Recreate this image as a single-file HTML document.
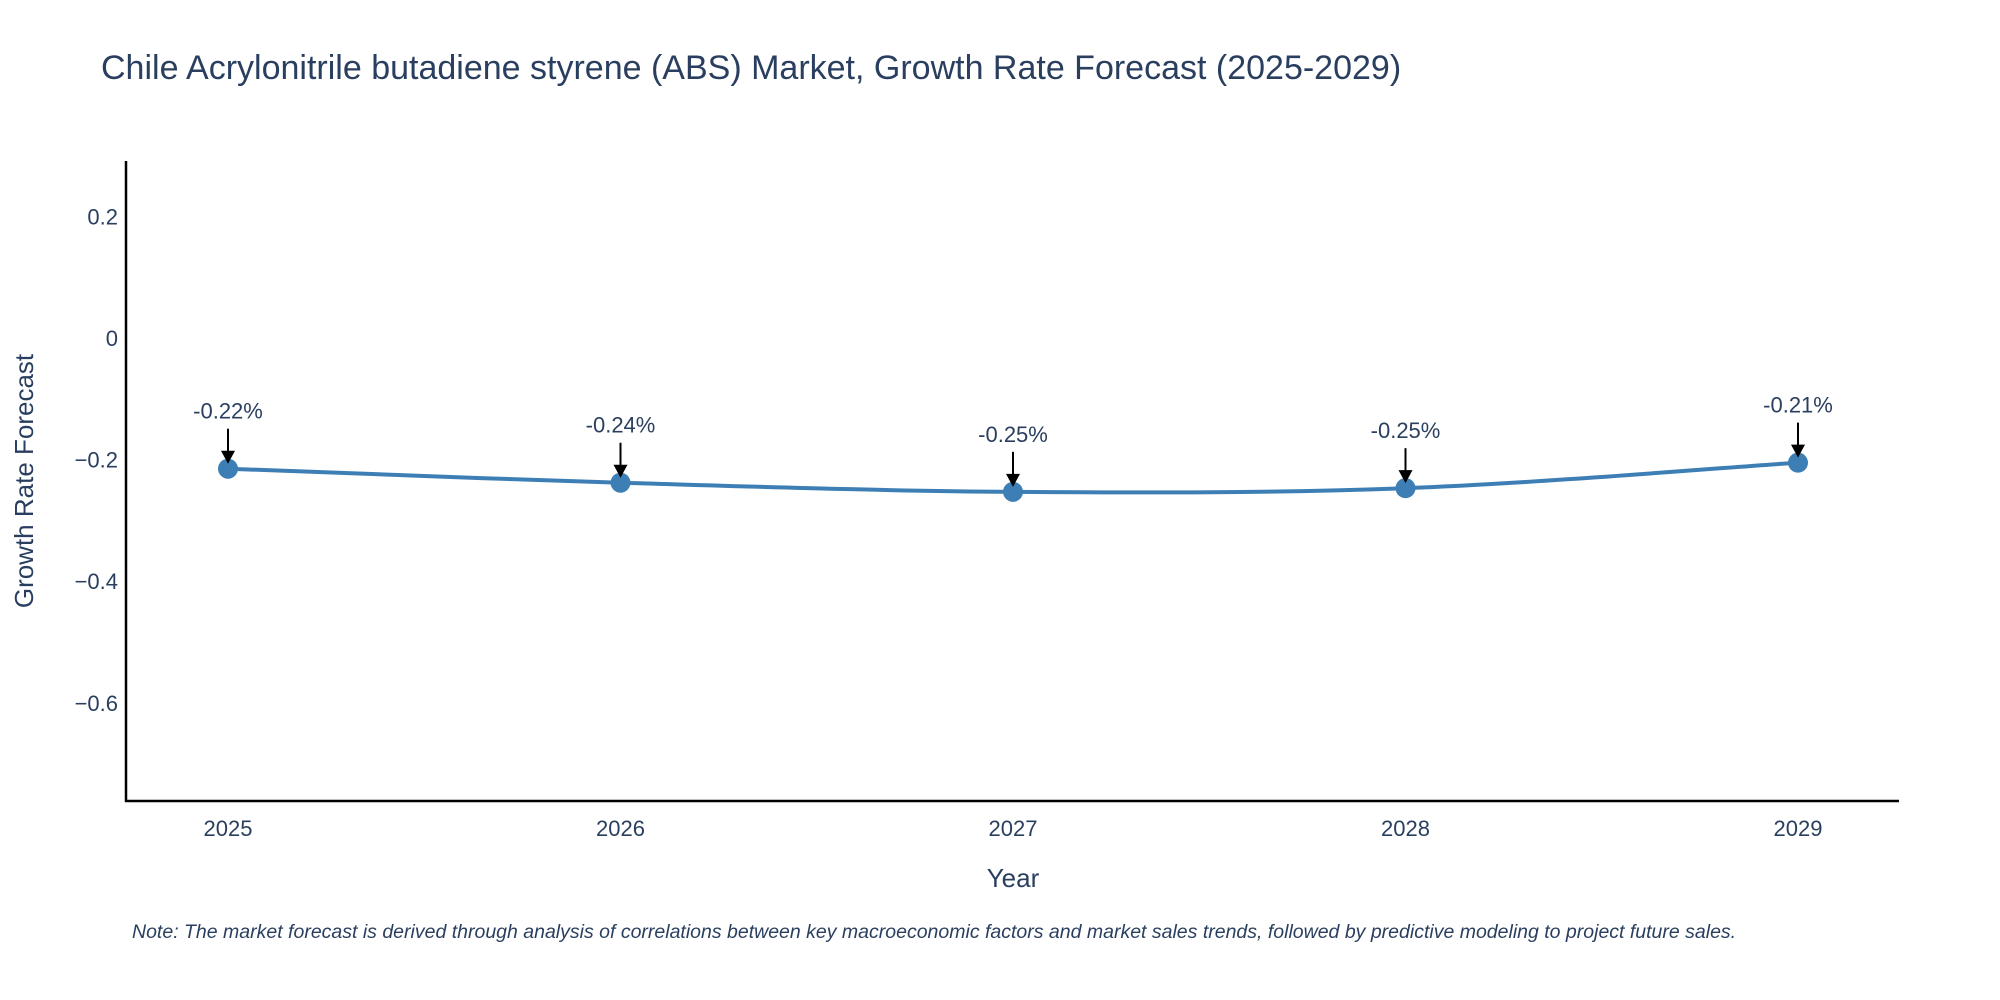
<!DOCTYPE html>
<html><head><meta charset="utf-8"><style>
html,body{margin:0;padding:0;background:#fff;}
svg{display:block;font-family:"Liberation Sans",sans-serif;}
</style></head><body>
<svg id="chart" width="2000" height="1000" viewBox="0 0 2000 1000">
<text x="101" y="79" font-size="34" fill="#2a3f5f">Chile Acrylonitrile butadiene styrene (ABS) Market, Growth Rate Forecast (2025-2029)</text>
<g id="yticks"></g>
<g id="xticks"></g>
<line x1="126" y1="161" x2="126" y2="802" stroke="#000" stroke-width="2.5"/>
<line x1="125" y1="801" x2="1899" y2="801" stroke="#000" stroke-width="2.5"/>
<text transform="translate(33,481) rotate(-90)" text-anchor="middle" font-size="26" fill="#2a3f5f">Growth Rate Forecast</text>
<text x="1013" y="887" text-anchor="middle" font-size="26" fill="#2a3f5f">Year</text>
<g id="series"></g>
<g id="annots"></g>
<text x="132" y="938" font-size="19.5" font-style="italic" fill="#2a3f5f">Note: The market forecast is derived through analysis of correlations between key macroeconomic factors and market sales trends, followed by predictive modeling to project future sales.</text>
</svg>
<script>
const years = [2025, 2026, 2027, 2028, 2029];
const values = [-0.215, -0.238, -0.253, -0.247, -0.205];
const labels = ["-0.22%", "-0.24%", "-0.25%", "-0.25%", "-0.21%"];
const yTickVals = [0.2, 0, -0.2, -0.4, -0.6];
const yTickText = ["0.2", "0", "\u22120.2", "\u22120.4", "\u22120.6"];

const NS = "http://www.w3.org/2000/svg";
function xs(y){ return 228 + (y - 2025) * 392.5; }
function ys(v){ return 338 - v * 608; }
function mk(tag, attrs, parent){ const e=document.createElementNS(NS,tag); for(const k in attrs) e.setAttribute(k,attrs[k]); parent.appendChild(e); return e; }

const yt=document.getElementById('yticks');
yTickVals.forEach((v,i)=>{
  const t=mk('text',{x:118,y:ys(v)+8,'text-anchor':'end','font-size':22,fill:'#2a3f5f'},yt);
  
  
  t.textContent=yTickText[i];
});
const xt=document.getElementById('xticks');
years.forEach(y=>{
  const t=mk('text',{x:xs(y),y:836,'text-anchor':'middle','font-size':22,fill:'#2a3f5f'},xt);
  
  
  t.textContent=String(y);
});

const pts=years.map((y,i)=>[xs(y),ys(values[i])]);
let d=`M${pts[0][0]},${pts[0][1]}`;
for(let i=0;i<pts.length-1;i++){
  const p0=pts[Math.max(0,i-1)],p1=pts[i],p2=pts[i+1],p3=pts[Math.min(pts.length-1,i+2)];
  const t=0.17;
  const c1=[p1[0]+(p2[0]-p0[0])*t,p1[1]+(p2[1]-p0[1])*t];
  const c2=[p2[0]-(p3[0]-p1[0])*t,p2[1]-(p3[1]-p1[1])*t];
  d+=` C${c1[0]},${c1[1]} ${c2[0]},${c2[1]} ${p2[0]},${p2[1]}`;
}
const s=document.getElementById('series');
const line=mk('path',{d:d,fill:'none',stroke:'#3d7fb4','stroke-width':4},s);


pts.forEach(p=>{
  const c=mk('circle',{cx:p[0],cy:p[1],r:10,fill:'#3d7fb4'},s);
  
  
});

const a=document.getElementById('annots');
pts.forEach((p,i)=>{
  const top=p[1]-40;
  const l=mk('line',{x1:p[0],y1:top,x2:p[0],y2:p[1]-16,stroke:'#000','stroke-width':2},a);
  
  
  const h=mk('polygon',{points:`${p[0]-7},${p[1]-18} ${p[0]+7},${p[1]-18} ${p[0]},${p[1]-5}`,fill:'#000'},a);
  
  
  const t=mk('text',{x:p[0],y:top-10,'text-anchor':'middle','font-size':22,fill:'#2a3f5f'},a);
  
  
  t.textContent=labels[i];
});
</script>
</body></html>
